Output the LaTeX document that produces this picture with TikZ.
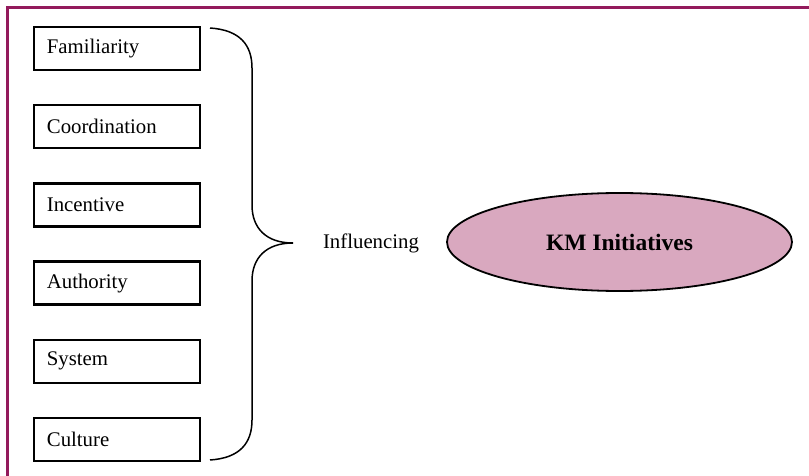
\documentclass[tikz,border=0pt]{standalone}
\usepackage{fontspec}
\setmainfont{Liberation Serif}
\usetikzlibrary{shapes.geometric}
\definecolor{framecol}{HTML}{931A5C}
\definecolor{kmfill}{HTML}{D9A8BF}
\tikzset{
  factor/.style={draw=black, line width=2.6pt, minimum width=166pt, minimum height=43pt,
    inner sep=0pt, font=\fontsize{20.8}{23}\selectfont},
  label/.style={font=\fontsize{20.8}{23}\selectfont, inner sep=0pt},
  goal/.style={ellipse, draw=black, line width=1.8pt, fill=kmfill, minimum width=345pt,
    minimum height=98pt, inner sep=0pt, font=\fontsize{23.5}{26}\bfseries\selectfont},
  bracelin/.style={draw=black, line width=1.5pt}
}
\begin{document}
\begin{tikzpicture}[x=1pt, y=-1pt]
\useasboundingbox (0,0) rectangle (809,476);
\fill[white] (0,0) rectangle (809,476);
% outer frame (top and left edges)
\draw[framecol, line width=3pt] (809,8) -- (7,8) -- (7,476);
% factor boxes
\foreach \name/\txt [count=\i from 0] in {fam/Familiarity, coo/Coordination, inc/Incentive,
    aut/Authority, sys/System, cul/Culture} {
  \node[factor] (\name) at (117,{48.5+78.2*\i}) {};
  \node[label, anchor=west] at ([xshift=14pt]\name.west) {\txt};
}
% brace gathering the factors
\coordinate (btop) at (210,28);
\coordinate (btip) at (293,243);
\coordinate (bbot) at (210,460);
\draw[bracelin] (btop) .. controls (240,30) and (252,45) .. (252,68) -- (252,205)
  .. controls (252,228) and (266,243) .. (btip)
  .. controls (266,243) and (252,258) .. (252,281) -- (252,420)
  .. controls (252,443) and (240,458) .. (bbot);
\node[label] (infl) at (371,243) {Influencing};
\node[goal] (km) at (619.5,242) {KM Initiatives};
\end{tikzpicture}
\end{document}
